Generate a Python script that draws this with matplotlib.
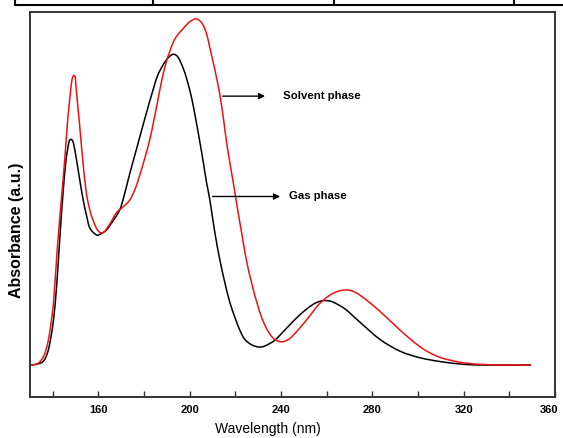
import matplotlib
matplotlib.use("Agg")
import matplotlib.pyplot as plt
from matplotlib.lines import Line2D
from matplotlib.path import Path
from matplotlib.patches import PathPatch
import matplotlib.transforms as mtransforms

# Gas phase (black)
gas_wl = [130.0, 133.4, 136.0, 137.8, 139.1, 140.4, 141.7, 143.0, 144.4, 145.7, 147.0, 147.9,
          149.0, 150.4, 151.8, 153.3, 154.7, 156.2, 159.1, 161.0, 163.5, 166.3, 169.3, 171.1,
          173.0, 174.6, 176.7, 180.3, 183.9, 186.0, 188.3, 190.4, 192.7, 194.8, 197.1, 198.9,
          200.8, 202.6, 204.4, 205.9, 207.3, 208.8, 211.0, 213.2, 215.4, 217.5, 219.7, 221.9,
          224.1, 227.2, 230.3, 232.9, 237.3, 242.5, 248.2, 253.5, 257.0, 259.9, 262.7, 268.0,
          274.5, 283.3, 292.1, 300.8, 309.6, 318.4, 327.1, 349.5]
gas_abs = [0.000, 0.003, 0.012, 0.038, 0.078, 0.136, 0.231, 0.361, 0.491, 0.587, 0.642, 0.652,
           0.642, 0.592, 0.535, 0.477, 0.434, 0.396, 0.376, 0.379, 0.390, 0.416, 0.448, 0.486,
           0.535, 0.575, 0.625, 0.712, 0.795, 0.838, 0.867, 0.887, 0.898, 0.890, 0.858, 0.821,
           0.772, 0.711, 0.645, 0.587, 0.529, 0.477, 0.382, 0.303, 0.237, 0.182, 0.139, 0.101,
           0.074, 0.058, 0.052, 0.055, 0.072, 0.107, 0.145, 0.173, 0.184, 0.186, 0.182, 0.162,
           0.124, 0.074, 0.040, 0.021, 0.010, 0.003, 0.000, 0.000]

# Solvent phase (red)
sol_wl = [130.0, 133.4, 136.0, 137.8, 139.2, 140.4, 141.9, 143.6, 145.2, 146.5, 147.6, 148.3,
          149.0, 149.8, 150.1, 150.9, 151.8, 153.1, 154.7, 156.2, 157.6, 159.3, 161.0, 162.8,
          165.0, 167.9, 170.8, 173.7, 175.9, 178.1, 180.3, 182.5, 184.2, 186.1, 187.7, 189.8,
          192.7, 194.8, 197.1, 199.6, 202.2, 204.0, 205.8, 207.5, 208.8, 211.0, 213.2, 214.7,
          216.1, 217.5, 219.0, 220.5, 222.7, 224.8, 227.1, 229.2, 231.4, 233.5, 235.8, 237.9,
          240.2, 242.5, 244.6, 248.2, 252.6, 255.7, 258.3, 261.4, 264.9, 268.4, 271.5, 274.5,
          278.9, 283.3, 287.7, 292.1, 296.4, 300.8, 305.2, 309.6, 314.0, 318.4, 322.7, 327.1,
          335.9, 349.5]
sol_abs = [0.000, 0.004, 0.026, 0.064, 0.121, 0.188, 0.332, 0.468, 0.592, 0.708, 0.780, 0.821,
           0.836, 0.832, 0.809, 0.751, 0.689, 0.592, 0.497, 0.448, 0.419, 0.393, 0.382, 0.387,
           0.408, 0.440, 0.457, 0.477, 0.506, 0.549, 0.598, 0.652, 0.705, 0.768, 0.822, 0.878,
           0.932, 0.955, 0.972, 0.990, 1.000, 0.997, 0.983, 0.954, 0.916, 0.853, 0.780, 0.714,
           0.645, 0.587, 0.529, 0.468, 0.382, 0.303, 0.237, 0.185, 0.139, 0.107, 0.083, 0.071,
           0.067, 0.071, 0.081, 0.107, 0.142, 0.169, 0.186, 0.202, 0.213, 0.217, 0.213, 0.202,
           0.180, 0.155, 0.128, 0.101, 0.076, 0.053, 0.035, 0.022, 0.014, 0.008, 0.004, 0.002,
           0.000, 0.000]

xticks_major = [160, 200, 240, 280, 320, 360]
xticks_minor = [140, 180, 220, 260, 300, 340]
labels = ["Solvent phase", "Gas phase"]


def smooth_path(xs, ys):
    """Bezier path passing through every data point (Catmull-Rom style rendering)."""
    pts = list(zip(xs, ys))
    n = len(pts)
    verts = [pts[0]]
    codes = [Path.MOVETO]
    for i in range(n - 1):
        p0 = pts[i - 1] if i > 0 else pts[i]
        p1 = pts[i]
        p2 = pts[i + 1]
        p3 = pts[i + 2] if i + 2 < n else pts[i + 1]
        c1 = (p1[0] + (p2[0] - p0[0]) / 6, p1[1] + (p2[1] - p0[1]) / 6)
        c2 = (p2[0] - (p3[0] - p1[0]) / 6, p2[1] - (p3[1] - p1[1]) / 6)
        verts += [c1, c2, p2]
        codes += [Path.CURVE4] * 3
    return Path(verts, codes)


fig = plt.figure(figsize=(5.63, 4.38), dpi=100)
ax = fig.add_axes([30/563, 1-397/438, 525/563, 385/438])

ax.add_patch(PathPatch(smooth_path(gas_wl, gas_abs), fill=False, edgecolor='black', lw=1.1))
ax.add_patch(PathPatch(smooth_path(sol_wl, sol_abs), fill=False, edgecolor='#ee1111', lw=1.1))

ax.set_xlim(130, 360)
ax.set_ylim(-0.0925, 1.0202)
ax.set_xticks(xticks_major)
ax.set_xticks(xticks_minor, minor=True)
ax.set_yticks([])
ax.tick_params(axis='x', which='both', direction='in', top=False, length=4, width=1, color='#333333')
ax.tick_params(axis='x', which='major', pad=6)
ticklabels = ax.get_xticklabels()
for lab in ticklabels:
    lab.set_fontfamily('Liberation Sans')
    lab.set_fontweight('bold')
    lab.set_fontsize(8)
ticklabels[-1].set_transform(ticklabels[-1].get_transform() +
                             mtransforms.ScaledTranslation(-6/100, 0, fig.dpi_scale_trans))
for s in ax.spines.values():
    s.set_color('#333333')
    s.set_linewidth(1.4)

ax.set_xlabel("Wavelength (nm)", family='Liberation Sans', fontsize=10)
ax.xaxis.set_label_coords(0.453, -0.066)
ax.set_ylabel("Absorbance (a.u.)", family='Liberation Sans', fontweight='bold', fontsize=11.5)
ax.yaxis.set_label_coords(-0.012, 0.434)

# arrows and labels
ax.annotate("", xy=(234.2, 0.777), xytext=(213.2, 0.777),
            arrowprops=dict(arrowstyle='-|>', color='black', lw=1, mutation_scale=9))
ax.text(240.8, 0.777, labels[0], family='Liberation Sans', fontweight='bold', fontsize=8.2,
        va='center', ha='left')
ax.annotate("", xy=(240.8, 0.487), xytext=(208.8, 0.487),
            arrowprops=dict(arrowstyle='-|>', color='black', lw=1, mutation_scale=9))
ax.text(243.4, 0.487, labels[1], family='Liberation Sans', fontweight='bold', fontsize=8.2,
        va='center', ha='left')

# table remnant at top
y0 = 1 - 5/438
fig.add_artist(Line2D([15/563, 1], [y0, y0], color='black', lw=1.5))
for xp in [15, 153, 334, 514]:
    fig.add_artist(Line2D([xp/563, xp/563], [y0, 1], color='black', lw=1.5))

fig.savefig("out.png", dpi=100)
